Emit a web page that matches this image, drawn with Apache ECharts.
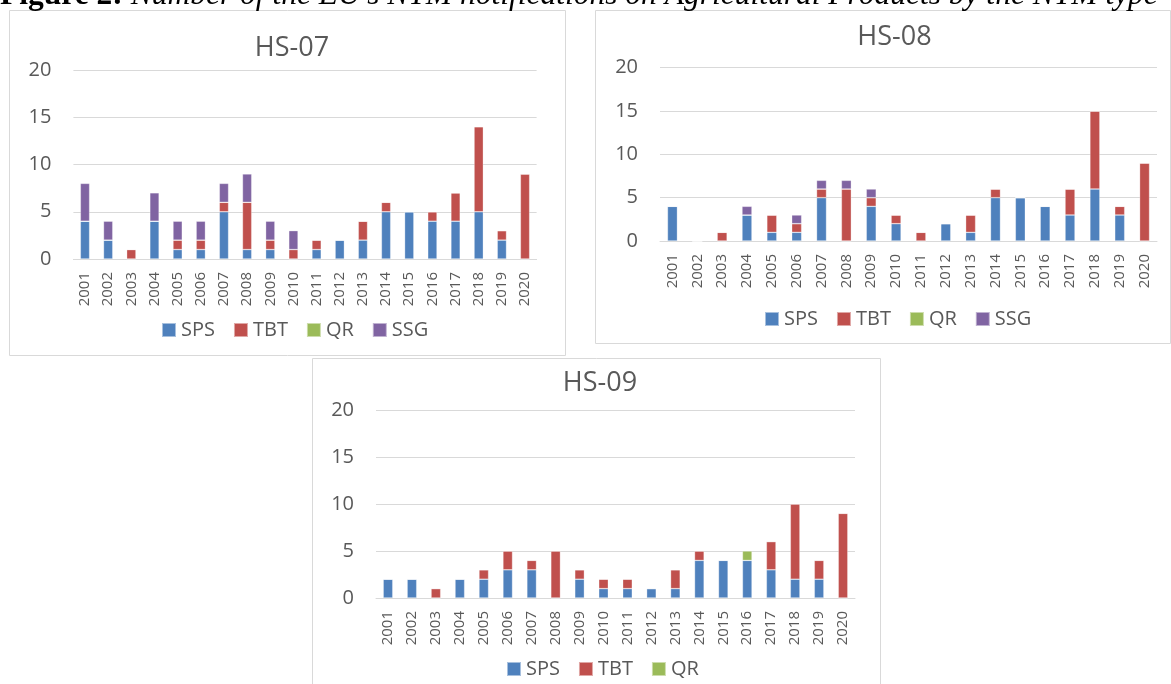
<!DOCTYPE html>
<html><head><meta charset="utf-8">
<script src="https://cdn.jsdelivr.net/npm/echarts@6/dist/echarts.min.js"></script>
<style>html,body{margin:0;padding:0;background:#fff}#c{width:1171px;height:684px}</style>
</head><body><div id="c"></div>
<script>
const years = ['2001','2002','2003','2004','2005','2006','2007','2008','2009','2010','2011','2012','2013','2014','2015','2016','2017','2018','2019','2020'];
// HS-07
const hs07_SPS = [4,2,0,4,1,1,5,1,1,0,1,2,2,5,5,4,4,5,2,0];
const hs07_TBT = [0,0,1,0,1,1,1,5,1,1,1,0,2,1,0,1,3,9,1,9];
const hs07_QR  = [0,0,0,0,0,0,0,0,0,0,0,0,0,0,0,0,0,0,0,0];
const hs07_SSG = [4,2,0,3,2,2,2,3,2,2,0,0,0,0,0,0,0,0,0,0];
// HS-08
const hs08_SPS = [4,0,0,3,1,1,5,0,4,2,0,2,1,5,5,4,3,6,3,0];
const hs08_TBT = [0,0,1,0,2,1,1,6,1,1,1,0,2,1,0,0,3,9,1,9];
const hs08_QR  = [0,0,0,0,0,0,0,0,0,0,0,0,0,0,0,0,0,0,0,0];
const hs08_SSG = [0,0,0,1,0,1,1,1,1,0,0,0,0,0,0,0,0,0,0,0];
// HS-09
const hs09_SPS = [2,2,0,2,2,3,3,0,2,1,1,1,1,4,4,4,3,2,2,0];
const hs09_TBT = [0,0,1,0,1,2,1,5,1,1,1,0,2,1,0,0,3,8,2,9];
const hs09_QR  = [0,0,0,0,0,0,0,0,0,0,0,0,0,0,0,1,0,0,0,0];

const colors = {SPS:'#4F81BD', TBT:'#C0504D', QR:'#9BBB59', SSG:'#8064A2'};
const txt = '#595959';
const ff = 'Open Sans';

const grids = [
  {left:73.4, top:70, width:463.2, height:189},
  {left:660, top:67.7, width:497, height:173.3},
  {left:376, top:410, width:479, height:188}
];
function xAx(i){return {type:'category', gridIndex:i, data:years,
  axisLine:{lineStyle:{color:'#d9d9d9'}}, axisTick:{show:false},
  axisLabel:{rotate:90, color:txt, fontFamily:ff, fontSize:15, margin:13}};}
function yAx(i){return {type:'value', gridIndex:i, min:0, max:20, interval:5,
  axisLine:{show:false}, axisTick:{show:false},
  splitLine:{lineStyle:{color:'#d9d9d9', width:1}},
  axisLabel:{color:txt, fontFamily:ff, fontSize:20, margin:22}};}
function ser(name, data, i){return {name:name, type:'bar', stack:'s'+i, xAxisIndex:i, yAxisIndex:i,
  data:data, barWidth:'40%', itemStyle:{color:colors[name], borderColor:'rgba(255,255,255,0.5)', borderWidth:0.6},
  emphasis:{disabled:true}};}
function leg(data, left, top){return {data:data, left:left, top:top, padding:0, icon:'rect', itemWidth:14, itemHeight:14,
  itemGap:18, textStyle:{color:txt, fontFamily:ff, fontSize:20}, selectedMode:false};}
function ttl(text, cx, top){return {text:text, left:cx, top:top, textAlign:'center',
  textStyle:{color:txt, fontFamily:ff, fontSize:27, fontWeight:'normal'}};}

const chart = echarts.init(document.getElementById('c'));
chart.setOption({
  animation:false,
  grid:grids,
  xAxis:[xAx(0),xAx(1),xAx(2)],
  yAxis:[yAx(0),yAx(1),yAx(2)],
  title:[ttl('HS-07',287,30), ttl('HS-08',889.5,19), ttl('HS-09',595,365)],
  legend:[
    leg(['SPS','TBT','QR','SSG'], 161, 320),
    leg(['SPS','TBT','QR','SSG'], 764, 309),
    leg(['SPS','TBT','QR'], 506, 659)
  ],
  series:[
    ser('SPS',hs07_SPS,0), ser('TBT',hs07_TBT,0), ser('QR',hs07_QR,0), ser('SSG',hs07_SSG,0),
    ser('SPS',hs08_SPS,1), ser('TBT',hs08_TBT,1), ser('QR',hs08_QR,1), ser('SSG',hs08_SSG,1),
    ser('SPS',hs09_SPS,2), ser('TBT',hs09_TBT,2), ser('QR',hs09_QR,2)
  ],
  graphic:[
    {type:'rect', shape:{x:9.5,y:10.5,width:556,height:345}, style:{fill:'none', stroke:'#d9d9d9', lineWidth:1}, z:-1},
    {type:'rect', shape:{x:595.5,y:10.5,width:575,height:333}, style:{fill:'none', stroke:'#d9d9d9', lineWidth:1}, z:-1},
    {type:'rect', shape:{x:312.5,y:358.5,width:568,height:340}, style:{fill:'#fff', stroke:'#d9d9d9', lineWidth:1}, z:-1},
    {type:'text', left:0, top:-20.5, z:10, style:{
      text:'{b|Figure 2: }{i|Number of the EU\u2019s NTM notifications on Agricultural Products by the NTM type}',
      rich:{b:{fontFamily:'Liberation Serif', fontWeight:'bold', fontSize:31.5, fill:'#000'},
            i:{fontFamily:'Liberation Serif', fontStyle:'italic', fontSize:31.5, fill:'#000'}}}}
  ]
});
</script></body></html>
